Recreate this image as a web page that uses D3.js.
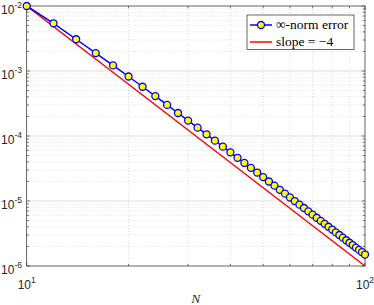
<!DOCTYPE html>
<html><head><meta charset="utf-8">
<script src="https://cdn.jsdelivr.net/npm/d3@7"></script>
<style>body{margin:0;background:#fff}svg{display:block}</style>
</head><body>
<script>
// Data
const N = [10,12,14,16,18,20,22,24,26,28,30,32,34,36,38,40,42,44,46,48,50,52,54,56,58,60,62,64,66,68,70,72,74,76,78,80,82,84,86,88,90,92,94,96,98,100];
const errInf = [1.000e-2,5.42e-3,3.08e-3,1.886e-3,1.220e-3,8.23e-4,5.72e-4,4.11e-4,3.01e-4,2.26e-4,1.727e-4,1.344e-4,1.062e-4,8.48e-5,6.85e-5,5.60e-5,4.62e-5,3.85e-5,3.24e-5,2.74e-5,2.33e-5,1.996e-5,1.722e-5,1.488e-5,1.296e-5,1.134e-5,9.99e-6,8.79e-6,7.80e-6,6.93e-6,6.16e-6,5.52e-6,4.95e-6,4.45e-6,4.02e-6,3.64e-6,3.29e-6,3.00e-6,2.73e-6,2.49e-6,2.28e-6,2.10e-6,1.92e-6,1.77e-6,1.63e-6,1.50e-6];
const slopeN = [10,100];
const slopeVals = [1e-2,1e-6];
const xTicks = [10,100];
const xTickExp = ["1","2"];
const yTicks = [1e-2,1e-3,1e-4,1e-5,1e-6];
const yTickExp = ["-2","-3","-4","-5","-6"];
const legendLabels = ["\u221e-norm error","slope = \u22124"];

const W=374,H=305;
const L=26.7,R=365,T=6,B=266;
const svg=d3.select("body").append("svg").attr("width",W).attr("height",H);
const x=d3.scaleLog().domain([10,100]).range([L,R]);
const y=d3.scaleLog().domain([1e-6,1e-2]).range([B,T]);

// grid
const g=svg.append("g");
const xMinor=[20,30,40,50,60,70,80,90];
const yMinor=[];
for(let e=-6;e<-2;e++) for(let m=2;m<=9;m++) yMinor.push(m*Math.pow(10,e));
g.selectAll(".xm").data(xMinor).join("line").attr("x1",d=>x(d)).attr("x2",d=>x(d)).attr("y1",T).attr("y2",B)
 .attr("stroke","#262626").attr("stroke-opacity",0.25).attr("stroke-width",0.6).attr("stroke-dasharray","1,2");
g.selectAll(".ym").data(yMinor).join("line").attr("y1",d=>y(d)).attr("y2",d=>y(d)).attr("x1",L).attr("x2",R)
 .attr("stroke","#262626").attr("stroke-opacity",0.25).attr("stroke-width",0.6).attr("stroke-dasharray","1,2");
g.selectAll(".yM").data(yTicks.slice(1,-1)).join("line").attr("y1",d=>y(d)).attr("y2",d=>y(d)).attr("x1",L).attr("x2",R)
 .attr("stroke","#262626").attr("stroke-opacity",0.15).attr("stroke-width",1);

// ticks (inward, all sides)
const tk=svg.append("g").attr("stroke","#262626").attr("stroke-width",0.6);
const tl=3.4, tm=2.2;
xTicks.forEach(d=>{tk.append("line").attr("x1",x(d)).attr("x2",x(d)).attr("y1",B).attr("y2",B-tl);
 tk.append("line").attr("x1",x(d)).attr("x2",x(d)).attr("y1",T).attr("y2",T+tl);});
xMinor.forEach(d=>{tk.append("line").attr("x1",x(d)).attr("x2",x(d)).attr("y1",B).attr("y2",B-tm);
 tk.append("line").attr("x1",x(d)).attr("x2",x(d)).attr("y1",T).attr("y2",T+tm);});
yTicks.forEach(d=>{tk.append("line").attr("y1",y(d)).attr("y2",y(d)).attr("x1",L).attr("x2",L+tl);
 tk.append("line").attr("y1",y(d)).attr("y2",y(d)).attr("x1",R).attr("x2",R-tl);});
yMinor.forEach(d=>{tk.append("line").attr("y1",y(d)).attr("y2",y(d)).attr("x1",L).attr("x2",L+tm);
 tk.append("line").attr("y1",y(d)).attr("y2",y(d)).attr("x1",R).attr("x2",R-tm);});

// box
svg.append("rect").attr("x",L).attr("y",T).attr("width",R-L).attr("height",B-T)
 .attr("fill","none").attr("stroke","#262626").attr("stroke-width",0.7);

// tick labels
const font="Liberation Sans, Arial, sans-serif";
yTicks.forEach((d,i)=>{
  const t=svg.append("text").attr("x",22).attr("y",y(d)+7.5).attr("text-anchor","end")
   .attr("font-family",font).attr("font-size",12).attr("fill","#262626");
  t.append("tspan").text("10");
  t.append("tspan").attr("dy",-6).attr("font-size",8.5).text(yTickExp[i]);
});
xTicks.forEach((d,i)=>{
  const t=svg.append("text").attr("x",x(d)).attr("y",288.5).attr("text-anchor","middle")
   .attr("font-family",font).attr("font-size",12).attr("fill","#262626");
  t.append("tspan").text("10");
  t.append("tspan").attr("dy",-6).attr("font-size",8.5).text(xTickExp[i]);
});
svg.append("text").attr("x",(L+R)/2).attr("y",302.5).attr("text-anchor","middle")
 .attr("font-family","Liberation Serif, serif").attr("font-style","italic").attr("font-size",13.5)
 .attr("fill","#262626").text("N");

// lines
const line=d3.line().x(d=>x(d[0])).y(d=>y(d[1]));
svg.append("path").datum(slopeN.map((n,i)=>[n,slopeVals[i]])).attr("d",line)
 .attr("fill","none").attr("stroke","#ff0000").attr("stroke-width",1.5);
const pts=N.map((n,i)=>[n,errInf[i]]);
svg.append("path").datum(pts).attr("d",line).attr("fill","none").attr("stroke","#0000ff").attr("stroke-width",1.5);
svg.selectAll(".mk").data(pts).join("circle").attr("cx",d=>x(d[0])).attr("cy",d=>y(d[1])).attr("r",3.5)
 .attr("fill","#ffff00").attr("stroke","#0000ff").attr("stroke-width",1.3);

// legend
const lg=svg.append("g");
lg.append("rect").attr("x",247).attr("y",15).attr("width",107).attr("height",34.5)
 .attr("fill","#fff").attr("stroke","#262626").attr("stroke-width",0.7);
const rows=[{y:25,c:"#0000ff",m:true},{y:42,c:"#ff0000",m:false}];
rows.forEach((r,i)=>{
  lg.append("line").attr("x1",250).attr("x2",272).attr("y1",r.y).attr("y2",r.y).attr("stroke",r.c).attr("stroke-width",1.5);
  if(r.m) lg.append("circle").attr("cx",261).attr("cy",r.y).attr("r",3.5).attr("fill","#ffff00").attr("stroke","#0000ff").attr("stroke-width",1.3);
  lg.append("text").attr("x",276).attr("y",r.y+4).attr("font-family","Liberation Serif, serif").attr("font-size",13.5)
   .attr("fill","#000").text(legendLabels[i]);
});
</script>
</body></html>
